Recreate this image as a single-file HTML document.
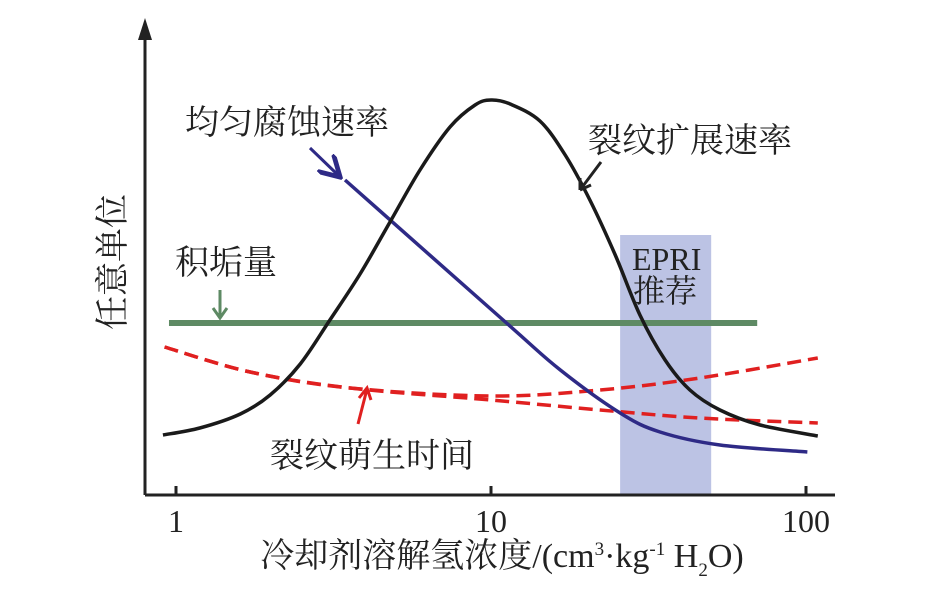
<!DOCTYPE html>
<html><head><meta charset="utf-8"><style>
body{margin:0;background:#fff}
svg text{font-family:"Liberation Serif","Noto Serif CJK SC",serif;fill:#222}
</style></head><body>
<svg id="svg" width="935" height="599" viewBox="0 0 935 599">
<defs>
<marker id="ab" markerWidth="8" markerHeight="8" refX="6" refY="4" orient="auto"><path d="M0,0 L7,4 L0,8" fill="none" stroke="#2e2a86" stroke-width="1.6"/></marker>
</defs>
<g id="plot"></g>
<line x1="145" y1="495" x2="835" y2="495" stroke="#222" stroke-width="3"/>
<line x1="145" y1="495" x2="145" y2="28" stroke="#222" stroke-width="3"/>
<path d="M138,40 L145,18 L152,40 Z" fill="#222"/>
<g id="ticks"></g>
<text x="502" y="567" font-size="34" text-anchor="middle">冷却剂溶解氢浓度/(cm<tspan dy="-12" font-size="19">3</tspan><tspan dy="12">·kg</tspan><tspan dy="-12" font-size="19">-1</tspan><tspan dy="12"> H</tspan><tspan dy="9" font-size="19">2</tspan><tspan dy="-9">O)</tspan></text>
<text transform="translate(124,262) rotate(-90)" font-size="34" text-anchor="middle">任意单位</text>
<text x="185" y="134" font-size="34">均匀腐蚀速率</text>
<text x="588" y="152" font-size="34">裂纹扩展速率</text>
<text x="175" y="274" font-size="34">积垢量</text>
<text x="632" y="270" font-size="32">EPRI</text>
<text x="633" y="302" font-size="32">推荐</text>
<text x="270" y="467" font-size="34">裂纹萌生时间</text>
<line x1="310" y1="148" x2="338" y2="175" stroke="#2e2a86" stroke-width="3" marker-end="url(#ab)"/>
<path d="M601,162 L580,190 M580,190 L580,178 M580,190 L591,185" stroke="#222" stroke-width="3" fill="none"/>
<path d="M220,290 L220,318 M213,308 L220,318 L227,308" stroke="#5e8a64" stroke-width="3" fill="none"/>
<path d="M358,424 L367,389 M359,398 L367,388 L371,400" stroke="#e02020" stroke-width="3" fill="none"/>
</svg>
<script>
const tickValues=[1,10,100];
const tickLabels=["1","10","100"];
const crackX=[0.909,1.19,1.60,1.99,2.48,3.08,3.84,4.78,5.95,7.41,8.90,10,11.5,14.3,17.2,20.6,24.8,29.7,35.7,42.8,53.3,71.5,109];
const crackY=[15,16.75,20.25,25,32.75,43.75,55.25,68.25,81.25,92,97.5,98.75,97.75,93.5,85,73.75,60,45,33.75,26.25,21.25,17.5,14.75];
const corrX=[3.44,11.2,16.6,25.7,34.4,53.3,101];
const corrY=[78.75,43,31.25,20.5,15.75,12.5,10.75];
const initAX=[0.92,1.72,3.57,10,22.2,46,109];
const initAY=[37,30.75,26.75,24.75,26.25,29.25,34.25];
const initBX=[0.92,1.72,3.57,10,22.2,46,109];
const initBY=[37,30.75,26.75,23.75,21.25,19.25,18];
const foulingX=[0.95,70];
const foulingY=[43];
const epriRange=[25.7,50];
const epriTop=65;
const NS="http://www.w3.org/2000/svg";
const sx=v=>176+315*Math.log10(v);
const sy=v=>495-4*v;
const plot=document.getElementById('plot');
function mk(tag,attrs,parent){const e=document.createElementNS(NS,tag);for(const k in attrs)e.setAttribute(k,attrs[k]);parent.appendChild(e);return e;}
function smooth(xs,ys){const p=xs.map((x,i)=>[sx(x),sy(ys[i])]);let d=`M${p[0][0]},${p[0][1]}`;for(let i=0;i<p.length-1;i++){const p0=p[i-1]||p[i],p1=p[i],p2=p[i+1],p3=p[i+2]||p2;const c1=[p1[0]+(p2[0]-p0[0])/6,p1[1]+(p2[1]-p0[1])/6],c2=[p2[0]-(p3[0]-p1[0])/6,p2[1]-(p3[1]-p1[1])/6];d+=` C${c1[0]},${c1[1]} ${c2[0]},${c2[1]} ${p2[0]},${p2[1]}`;}return d;}
const band=mk('rect',{x:sx(epriRange[0]),y:sy(epriTop),width:sx(epriRange[1])-sx(epriRange[0]),height:sy(0)-sy(epriTop),fill:'#bcc3e4'},plot);


const g=mk('line',{x1:sx(foulingX[0]),x2:sx(foulingX[1]),y1:sy(foulingY[0]),y2:sy(foulingY[0]),stroke:'#5e8a64','stroke-width':6},plot);


const ra=mk('path',{d:smooth(initAX,initAY),fill:'none',stroke:'#e02020','stroke-width':3.5,'stroke-dasharray':'14 7'},plot);


const rb=mk('path',{d:smooth(initBX,initBY),fill:'none',stroke:'#e02020','stroke-width':3.5,'stroke-dasharray':'14 7'},plot);


const bl=mk('path',{d:smooth(corrX,corrY),fill:'none',stroke:'#2e2a86','stroke-width':3.5},plot);


const ck=mk('path',{d:smooth(crackX,crackY),fill:'none',stroke:'#1a1a1a','stroke-width':3.5},plot);


const tg=document.getElementById('ticks');
tickValues.forEach((v,i)=>{
 const t=mk('line',{x1:sx(v),x2:sx(v),y1:495,y2:486,stroke:'#222','stroke-width':3},tg);
 
 
 const l=mk('text',{x:sx(v),y:532,'font-size':32,'text-anchor':'middle'},tg);
 l.textContent=tickLabels[i];
 
 
});
</script>
</body></html>
